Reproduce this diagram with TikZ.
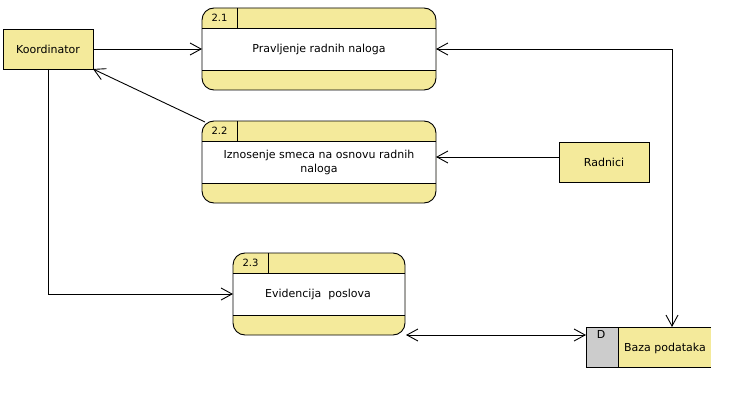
\documentclass[tikz,border=0pt]{standalone}
\usepackage{fontspec}
\setmainfont{DejaVu Sans}
\usetikzlibrary{arrows.meta}
\definecolor{yfill}{RGB}{244,234,155}
\definecolor{gfill}{RGB}{204,204,204}
\tikzset{
  x=1pt, y=-1pt,
  every node/.style={inner sep=0pt, outer sep=0pt},
  flow/.style={line width=0.9pt, -{Straight Barb[length=11pt,width=12pt,line width=0.9pt]}},
  biflow/.style={line width=0.9pt, {Straight Barb[length=11pt,width=12pt,line width=0.9pt]}-{Straight Barb[length=11pt,width=12pt,line width=0.9pt]}},
  extent/.style={draw, line width=0.9pt, fill=yfill, minimum width=90pt, minimum height=40pt, font=\fontsize{11}{13}\selectfont},
  procframe/.style={draw, line width=0.9pt, rounded corners=12pt, minimum height=82pt},
  proctext/.style={font=\fontsize{11}{14}\selectfont, align=center},
  idtext/.style={font=\fontsize{10}{12}\selectfont},
  band/.style={line width=0.9pt},
}
\begin{document}
\begin{tikzpicture}
\useasboundingbox (0,0) rectangle (734,404);

% ---------- process 2.1 ----------
\fill[yfill, rounded corners=12pt] (202,8) rectangle (436,90);
\fill[white] (202,28) rectangle (436,70);
\node[procframe, minimum width=234pt] (p1) at (319,49) {};
\draw[band] (202,28) -- (436,28) (202,70) -- (436,70) (237,8) -- (237,28);
\node[idtext] (p1id) at (219.5,18) {2.1};
\node[proctext] (p1t) at (319,49) {Pravljenje radnih naloga};

% ---------- process 2.2 ----------
\fill[yfill, rounded corners=12pt] (202,121) rectangle (436,203);
\fill[white] (202,141) rectangle (436,183);
\node[procframe, minimum width=234pt] (p2) at (319,162) {};
\draw[band] (202,141) -- (436,141) (202,183) -- (436,183) (237,121) -- (237,141);
\node[idtext] (p2id) at (219.5,131) {2.2};
\node[proctext] (p2t) at (319,162) {Iznosenje smeca na osnovu radnih\\naloga};

% ---------- process 2.3 ----------
\fill[yfill, rounded corners=12pt] (233,253) rectangle (405,335);
\fill[white] (233,273) rectangle (405,315);
\node[procframe, minimum width=172pt] (p3) at (319,294) {};
\draw[band] (233,273) -- (405,273) (233,315) -- (405,315) (268,253) -- (268,273);
\node[idtext] (p3id) at (250.5,263) {2.3};
\node[proctext] (p3t) at (318,294) {Evidencija\ \ poslova};

% ---------- external entities ----------
\node[extent] (k) at (48,49) {Koordinator};
\node[extent] (r) at (604,162) {Radnici};

% ---------- data store ----------
\fill[gfill] (586,327) rectangle (618,367);
\fill[yfill] (618,327) rectangle (711,367);
\draw[band] (711,327) -- (586,327) -- (586,367) -- (711,367) (618,327) -- (618,367);
\node[minimum width=125pt, minimum height=40pt] (b) at (648.5,347) {};
\node[font=\fontsize{11}{13}\selectfont] (bt) at (665,348) {Baza podataka};
\node[font=\fontsize{11}{13}\selectfont] (bd) at (601,334) {D};

% ---------- connectors ----------
\coordinate (c1) at (672,49);
\draw[flow] (k.east) -- (p1.west);
\draw[flow] ([xshift=3pt,yshift=-1pt]p2.north west) -- (k.south east);
\draw[flow] (k.south) |- (p3.west);
\draw[flow] ([yshift=5pt]r.west) -- ([yshift=5pt]p2.east);
\draw[biflow] (p1.east) -- (c1) -- (c1 |- b.north);
\draw[biflow] ([xshift=1pt]p3.south east) -- ([yshift=12pt]b.west);
\end{tikzpicture}
\end{document}
